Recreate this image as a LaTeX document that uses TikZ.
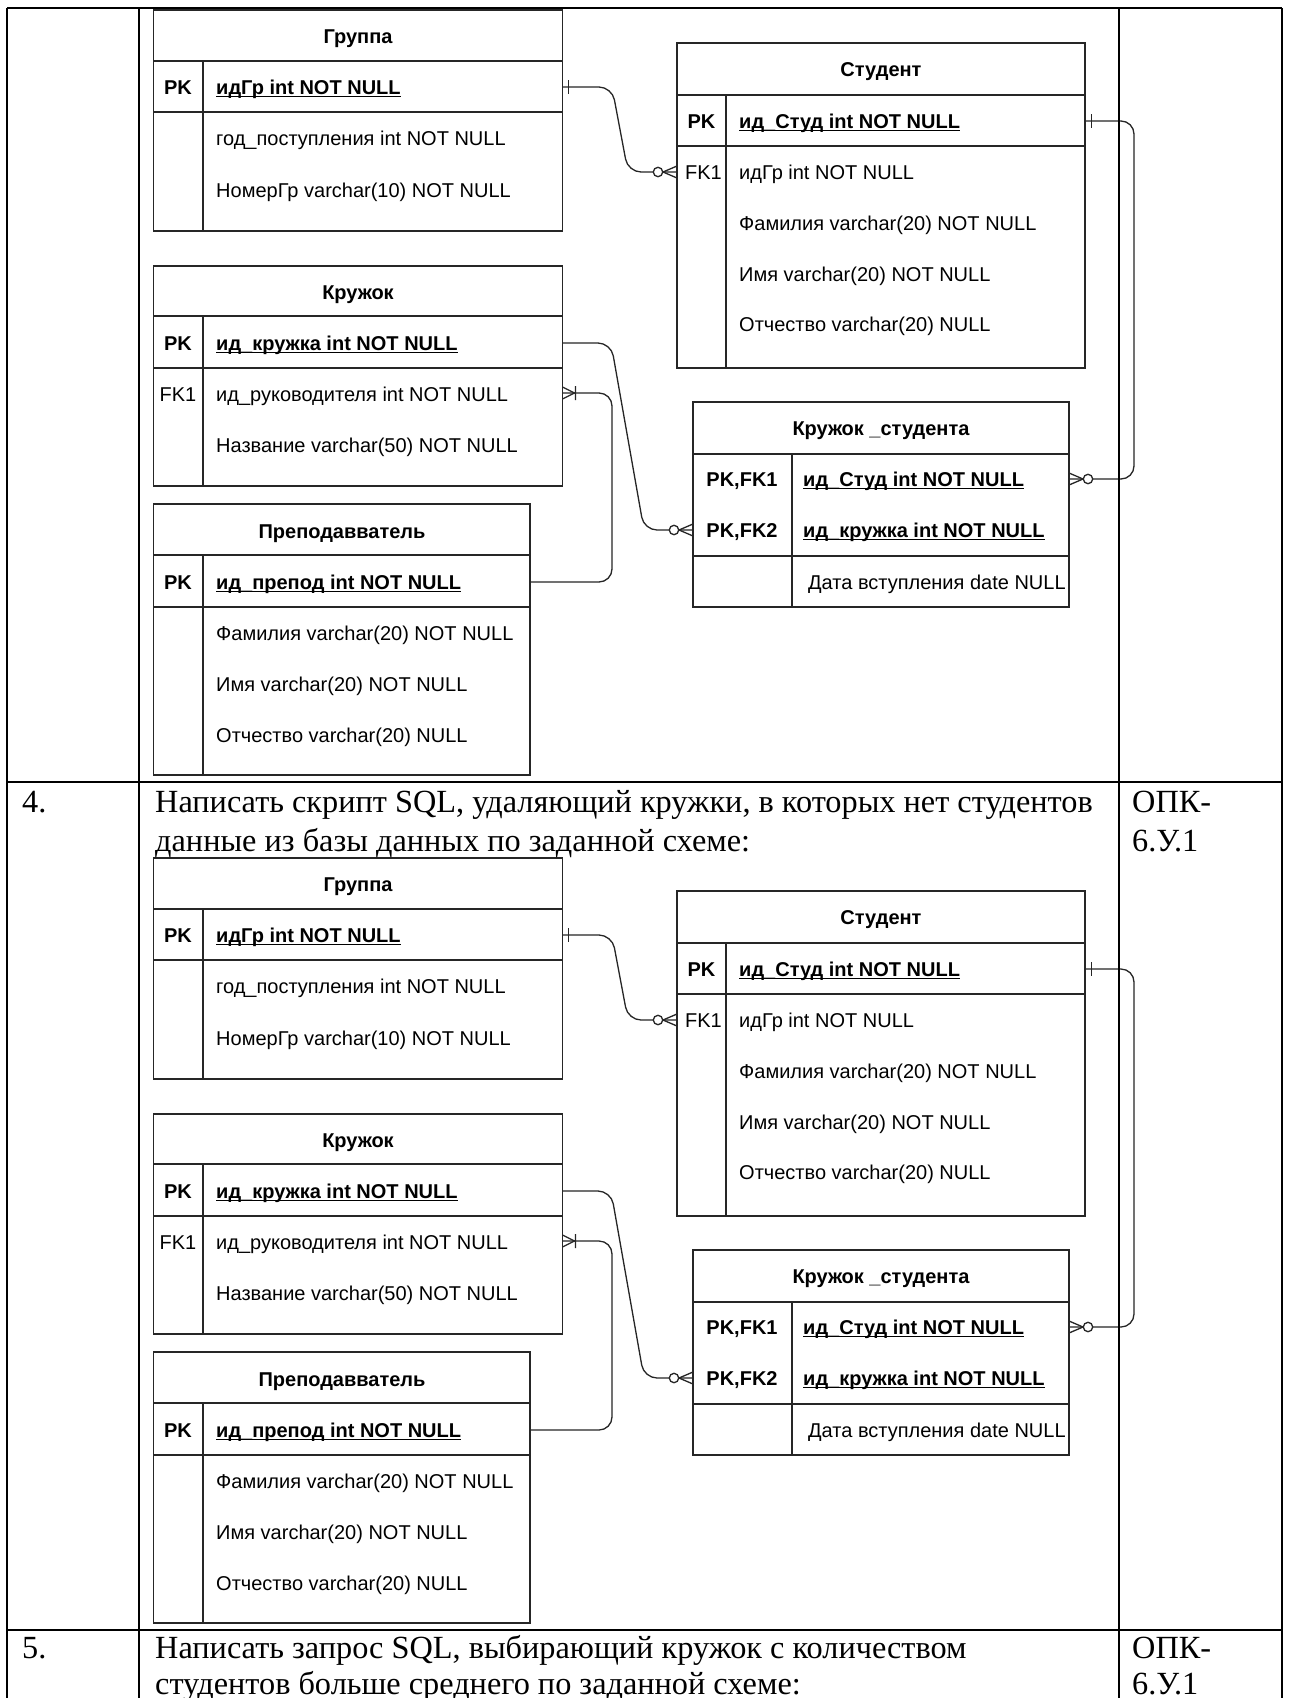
\documentclass[tikz,border=0pt]{standalone}
\usepackage{fontspec}
\setmainfont{Liberation Serif}
\newfontfamily\erfont{Liberation Sans}
\usetikzlibrary{calc}
\newcommand\erf{\erfont\fontsize{20pt}{24pt}\selectfont}
\newcommand\ulx[1]{\setbox0\hbox{#1}\rlap{\rule[-2.6pt]{\wd0}{1.1pt}}\box0}
\tikzset{
  ebox/.style={draw=black!85, line width=1.4pt, anchor=north west, inner sep=0pt, outer sep=0pt},
  eline/.style={draw=black!85, line width=1.4pt},
  ttl/.style={font=\erf\bfseries, anchor=base, inner sep=0pt},
  keyb/.style={font=\erf\bfseries, anchor=base, inner sep=0pt},
  keyr/.style={font=\erf, anchor=base, inner sep=0pt},
  attr/.style={font=\erf, anchor=base west, inner sep=0pt},
  attrb/.style={font=\erf\bfseries, anchor=base west, inner sep=0pt},
  conn/.style={draw=black!85, line width=1.3pt, rounded corners=13pt},
  erm/.style={draw=black!85, line width=1.3pt},
  tline/.style={draw=black, line width=2.2pt},
  body/.style={font=\fontsize{32.3pt}{40pt}\selectfont, anchor=base west, inner sep=0pt},
}
\newcommand\crowL[1]{%
  \draw[erm] ([shift={(-14,0)}]#1) -- ([shift={(0,-6)}]#1) ([shift={(-14,0)}]#1) -- ([shift={(0,6)}]#1);
  \draw[erm,fill=white] ([shift={(-19,0)}]#1) circle[radius=4.7pt];}
\newcommand\crowR[1]{%
  \draw[erm] ([shift={(14,0)}]#1) -- ([shift={(0,-6)}]#1) ([shift={(14,0)}]#1) -- ([shift={(0,6)}]#1);
  \draw[erm,fill=white] ([shift={(19,0)}]#1) circle[radius=4.7pt];}
\newcommand\oneBar[2]{\draw[erm] ([shift={(#2,-7)}]#1) -- ([shift={(#2,7)}]#1);}
\newcommand\oneManyR[1]{%
  \draw[erm] ([shift={(12,0)}]#1) -- ([shift={(0,-6)}]#1) ([shift={(12,0)}]#1) -- ([shift={(0,6)}]#1)
    ([shift={(13,-7)}]#1) -- ([shift={(13,7)}]#1);}
\newcommand\ERdiag{%
  % ---- Группа
  \node[ebox, minimum width=409pt, minimum height=221pt] (grp) at (153.5,10) {};
  \draw[eline] (153.5,61) -- (562.5,61) (153.5,112) -- (562.5,112) (203,61) -- (203,231);
  \node[ttl] (grp-t) at (358,43) {Группа};
  \node[keyb] (grp-k1) at (178,94) {PK};
  \node[attrb] (grp-a1) at (216,94) {\ulx{идГр int NOT NULL}};
  \node[attr] (grp-a2) at (216,145) {год\_поступления int NOT NULL};
  \node[attr] (grp-a3) at (216,197) {НомерГр varchar(10) NOT NULL};
  \coordinate (grp-r1) at (178,87);
  % ---- Кружок
  \node[ebox, minimum width=409pt, minimum height=220pt] (krj) at (153.5,266) {};
  \draw[eline] (153.5,316) -- (562.5,316) (153.5,368) -- (562.5,368) (203,316) -- (203,486);
  \node[ttl] (krj-t) at (358,299) {Кружок};
  \node[keyb] (krj-k1) at (178,350) {PK};
  \node[attrb] (krj-a1) at (216,350) {\ulx{ид\_кружка int NOT NULL}};
  \node[keyr] (krj-k2) at (178,401) {FK1};
  \node[attr] (krj-a2) at (216,401) {ид\_руководителя int NOT NULL};
  \node[attr] (krj-a3) at (216,452) {Название varchar(50) NOT NULL};
  \coordinate (krj-r1) at (178,343);
  \coordinate (krj-r2) at (178,393);
  % ---- Преподавватель
  \node[ebox, minimum width=376.5pt, minimum height=271pt] (prp) at (153.5,504) {};
  \draw[eline] (153.5,555) -- (530,555) (153.5,607) -- (530,607) (203,555) -- (203,775);
  \node[ttl] (prp-t) at (342,538) {Преподавватель};
  \node[keyb] (prp-k1) at (178,589) {PK};
  \node[attrb] (prp-a1) at (216,589) {\ulx{ид\_препод int NOT NULL}};
  \node[attr] (prp-a2) at (216,640) {Фамилия varchar(20) NOT NULL};
  \node[attr] (prp-a3) at (216,691) {Имя varchar(20) NOT NULL};
  \node[attr] (prp-a4) at (216,742) {Отчество varchar(20) NULL};
  \coordinate (prp-r1) at (178,582);
  % ---- Студент
  \node[ebox, minimum width=408pt, minimum height=325pt] (std) at (677,43) {};
  \draw[eline] (677,95) -- (1085,95) (677,146) -- (1085,146) (726,95) -- (726,368);
  \node[ttl] (std-t) at (881,76) {Студент};
  \node[keyb] (std-k1) at (701.5,128) {PK};
  \node[attrb] (std-a1) at (739,128) {\ulx{ид\_Студ int NOT NULL}};
  \node[keyr] (std-k2) at (703.5,179) {FK1};
  \node[attr] (std-a2) at (739,179) {идГр int NOT NULL};
  \node[attr] (std-a3) at (739,230) {Фамилия varchar(20) NOT NULL};
  \node[attr] (std-a4) at (739,281) {Имя varchar(20) NOT NULL};
  \node[attr] (std-a5) at (739,331) {Отчество varchar(20) NULL};
  \coordinate (std-r1) at (701.5,121);
  \coordinate (std-r2) at (701.5,172);
  % ---- Кружок _студента
  \node[ebox, minimum width=376pt, minimum height=205pt] (ks) at (693,402) {};
  \draw[eline] (693,454) -- (1069,454) (693,556) -- (1069,556) (792,454) -- (792,607);
  \node[ttl] (ks-t) at (881,435) {Кружок \_студента};
  \node[keyb] (ks-k1) at (742,486) {PK,FK1};
  \node[attrb] (ks-a1) at (803,486) {\ulx{ид\_Студ int NOT NULL}};
  \node[keyb] (ks-k2) at (742,537) {PK,FK2};
  \node[attrb] (ks-a2) at (803,537) {\ulx{ид\_кружка int NOT NULL}};
  \node[attr] (ks-a3) at (808,589) {Дата вступления date NULL};
  \coordinate (ks-r1) at (742,479);
  \coordinate (ks-r2) at (742,530);
  % ---- end points
  \coordinate (e1a) at (grp.east |- grp-r1);
  \coordinate (e1b) at (std.west |- std-r2);
  \coordinate (e2a) at (krj.east |- krj-r1);
  \coordinate (e2b) at (ks.west |- ks-r2);
  \coordinate (e3a) at (prp.east |- prp-r1);
  \coordinate (e3b) at (krj.east |- krj-r2);
  \coordinate (e4a) at (std.east |- std-r1);
  \coordinate (e4b) at (ks.east |- ks-r1);
  % ---- connectors
  \draw[conn] (e1a) -- (612,87) -- (628,172) -- (e1b);
  \draw[conn] (e2a) -- (611,343) -- (644,530) -- (e2b);
  \draw[conn] (e3a) -- (612,582) -- (612,393) -- (e3b);
  \draw[conn] (e4a) -- (1134,121) -- (1134,479) -- (e4b);
  % ---- markers
  \oneBar{e1a}{6}
  \crowL{e1b}
  \crowL{e2b}
  \oneManyR{e3b}
  \oneBar{e4a}{6.5}
  \crowR{e4b}
}
\begin{document}
\begin{tikzpicture}[x=1pt, y=-1pt]
  \useasboundingbox (0,0) rectangle (1291,1698);
  \clip (0,0) rectangle (1291,1698);
  \fill[white] (0,0) rectangle (1291,1698);
  % diagrams
  \begin{scope}[name prefix=a-]
    \ERdiag
  \end{scope}
  \begin{scope}[yshift=-848pt, name prefix=b-]
    \ERdiag
  \end{scope}
  % table grid
  \draw[tline] (7,8) -- (1282,8);
  \draw[tline] (7,8) -- (7,1700);
  \draw[tline] (139,8) -- (139,1700);
  \draw[tline] (1119,8) -- (1119,1700);
  \draw[tline] (1282,8) -- (1282,1700);
  \draw[tline] (7,782) -- (1282,782);
  \draw[tline] (7,1630) -- (1282,1630);
  % row 4
  \node[body] (n4) at (22,812) {4.};
  \node[body] (t4a) at (155,812) {Написать скрипт SQL, удаляющий кружки, в которых нет студентов};
  \node[body] (t4b) at (155,851) {данные из базы данных по заданной схеме:};
  \node[body] (c4a) at (1132,812) {ОПК-};
  \node[body] (c4b) at (1132,851) {6.У.1};
  % row 5
  \node[body] (n5) at (22,1658) {5.};
  \node[body] (t5a) at (155,1658) {Написать запрос SQL, выбирающий кружок с количеством};
  \node[body] (t5b) at (155,1694) {студентов больше среднего по заданной схеме:};
  \node[body] (c5a) at (1132,1658) {ОПК-};
  \node[body] (c5b) at (1132,1694) {6.У.1};
\end{tikzpicture}
\end{document}
